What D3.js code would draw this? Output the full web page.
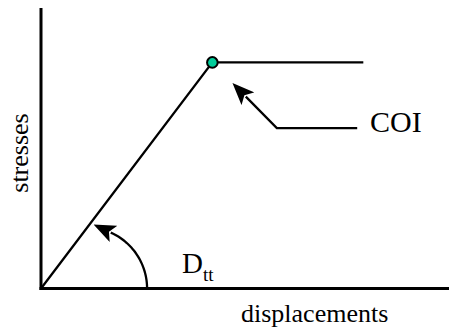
<html>
<head>
<script src="https://d3js.org/d3.v7.min.js"></script>
<style>
    body { margin: 0; background: #fff; }
    .axis { stroke: #000; stroke-width: 3px; }
    .curve { fill: none; stroke: #000; stroke-width: 2.3px; }
    .pointer { fill: none; stroke: #000; stroke-width: 2.3px; }
</style>
</head>
<body>
<svg id="chart" width="449" height="331"></svg>
<script>
    // bilinear stress-displacement curve (arbitrary units, 0..100)
    const curveX = [0, 42, 79];
    const curveY = [0, 80.6, 80.6];
    // crack onset point
    const coiPoint = [42, 80.6];
    // leader from the label to the point (ends at the arrowhead base)
    const coiLeaderX = [77.5, 57.8, 50.2];
    const coiLeaderY = [57.2, 57.2, 68.4];
    // stiffness angle arc: centre, radius (x units), start/end angle (deg)
    const arcCentre = [11, 0];
    const arcRadius = 15;
    const arcAngles = [0, 66];

    const serif = "'Liberation Serif', 'Times New Roman', Times, 'DejaVu Serif', serif";

    const svg = d3.select("#chart");
    const margin = { top: 8, right: 0, bottom: 42.5, left: 41 };
    const width = +svg.attr("width");
    const height = +svg.attr("height");

    const x = d3.scaleLinear().domain([0, 100]).range([margin.left, width - margin.right]);
    const y = d3.scaleLinear().domain([0, 100]).range([height - margin.bottom, margin.top]);

    const defs = svg.append("defs");
    defs.append("marker")
        .attr("id", "head")
        .attr("viewBox", "0 0 22 18")
        .attr("refX", 3).attr("refY", 9)
        .attr("markerWidth", 22).attr("markerHeight", 18)
        .attr("markerUnits", "userSpaceOnUse")
        .attr("orient", "auto")
      .append("path")
        .attr("d", "M0,0 L22,9 L0,18 L5,9 Z")
        .attr("fill", "#000");

    // axes
    svg.append("line").attr("class", "axis")
        .attr("x1", x(0)).attr("y1", y(100)).attr("x2", x(0)).attr("y2", y(0) + 1.5);
    svg.append("line").attr("class", "axis")
        .attr("x1", x(0) - 1.5).attr("y1", y(0)).attr("x2", x(100)).attr("y2", y(0));

    const line = d3.line().x(d => x(d[0])).y(d => y(d[1]));
    svg.append("path").attr("class", "curve")
        .attr("d", line(d3.zip(curveX, curveY)));

    // arc showing the initial stiffness
    const cx = x(arcCentre[0]), cy = y(arcCentre[1]);
    const r = x(arcRadius) - x(0);
    const arcPts = d3.range(arcAngles[0], arcAngles[1] + 0.1, 2).map(a => {
        const t = a * Math.PI / 180;
        return [cx + r * Math.cos(t), cy - r * Math.sin(t)];
    });
    svg.append("path").attr("class", "pointer")
        .attr("d", d3.line()(arcPts))
        .attr("marker-end", "url(#head)");

    svg.append("path").attr("class", "pointer")
        .attr("d", line(d3.zip(coiLeaderX, coiLeaderY)))
        .attr("marker-end", "url(#head)");

    svg.append("circle")
        .attr("cx", x(coiPoint[0])).attr("cy", y(coiPoint[1]))
        .attr("r", 5.3)
        .attr("fill", "#00cc99")
        .attr("stroke", "#000").attr("stroke-width", 2);

    // labels
    svg.append("text").attr("x", 370).attr("y", 132)
        .attr("font-family", serif)
        .attr("font-size", 30).text("COI");

    const dtt = svg.append("text").attr("x", 182).attr("y", 273)
        .attr("font-family", serif).attr("font-size", 29);
    dtt.append("tspan").text("D");
    dtt.append("tspan").attr("font-size", 19).attr("dy", 8).text("tt");

    svg.append("text").attr("x", 241).attr("y", 322)
        .attr("font-family", serif)
        .attr("font-size", 26).text("displacements");

    svg.append("text")
        .attr("transform", "translate(28,153) rotate(-90)")
        .attr("text-anchor", "middle")
        .attr("font-family", serif)
        .attr("font-size", 26).text("stresses");
</script>
</body>
</html>
